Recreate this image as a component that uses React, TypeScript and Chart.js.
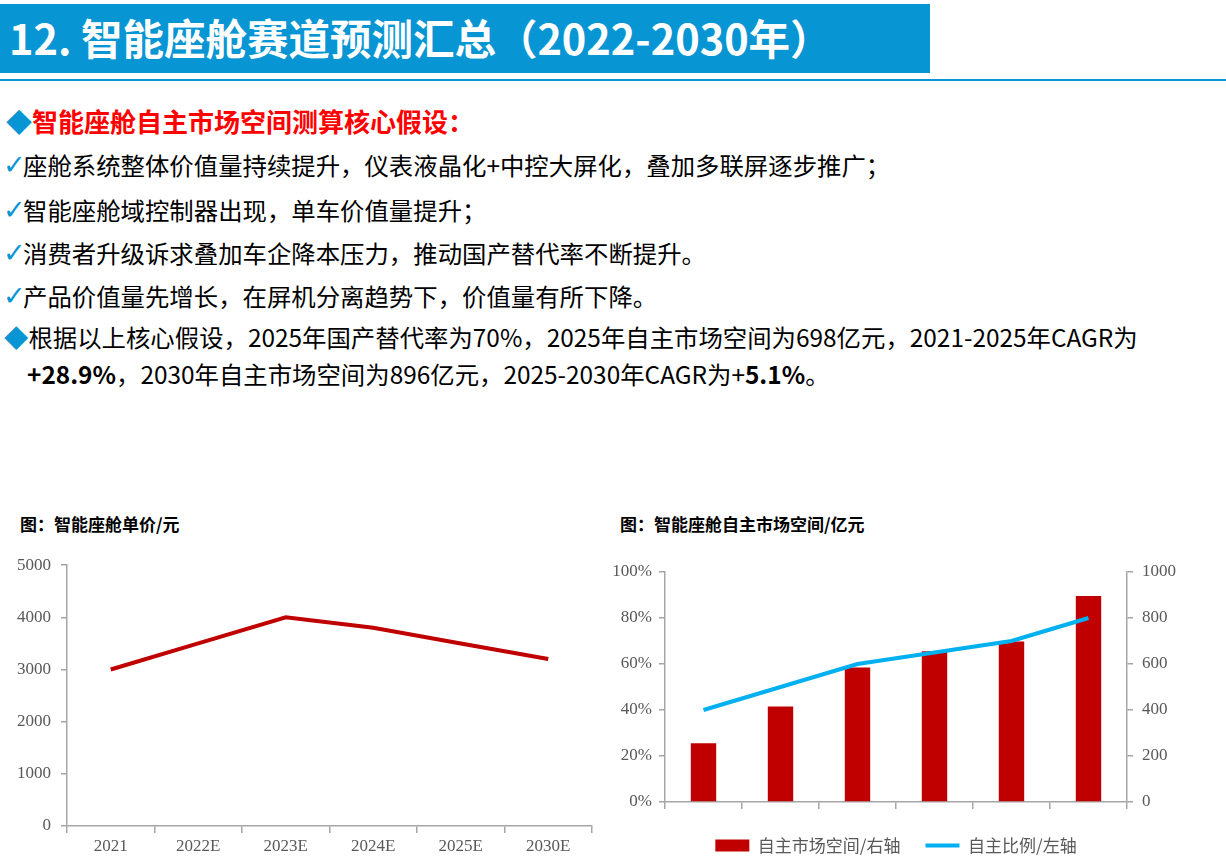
import React, { useEffect, useRef } from 'react';
import { Chart, registerables } from 'chart.js';

Chart.register(...registerables);

// ---------- data ----------
const categories = ['2021', '2022E', '2023E', '2024E', '2025E', '2030E'];
const unitPrice = [3000, 3500, 4000, 3800, 3500, 3200];
const marketSpace = [255, 415, 585, 655, 698, 896];
const domesticRatio = [40, 50, 60, 65, 70, 80];
const seriesNames = ['自主市场空间/右轴', '自主比例/左轴'];

const titleText = '12. 智能座舱赛道预测汇总（2022-2030年）';
const headingText = '智能座舱自主市场空间测算核心假设：';
const checkLines = [
  '座舱系统整体价值量持续提升，仪表液晶化+中控大屏化，叠加多联屏逐步推广；',
  '智能座舱域控制器出现，单车价值量提升；',
  '消费者升级诉求叠加车企降本压力，推动国产替代率不断提升。',
  '产品价值量先增长，在屏机分离趋势下，价值量有所下降。',
];
const leftChartTitle = '图：智能座舱单价/元';
const rightChartTitle = '图：智能座舱自主市场空间/亿元';

// ---------- styles ----------
const BLUE = '#0895d4';
const RED = '#c00000';
const CYAN = '#00b0f0';
const AXIS = '#a6a6a6';
const TICK_COLOR = '#595959';
const CJK = "'Noto Sans CJK SC', 'Noto Sans', sans-serif";
const SERIF = "'Liberation Serif', 'DejaVu Serif', serif";
const TICK_FONT = { family: SERIF, size: 17 };

function PriceChart() {
  const ref = useRef<HTMLCanvasElement>(null);
  useEffect(() => {
    const chart = new Chart(ref.current!, {
      type: 'line',
      data: {
        labels: categories,
        datasets: [
          {
            data: unitPrice,
            borderColor: RED,
            backgroundColor: RED,
            borderWidth: 4,
            pointRadius: 0,
            tension: 0,
            fill: false,
          },
        ],
      },
      options: {
        animation: false,
        responsive: false,
        layout: { padding: { top: 18, right: 8, left: 0, bottom: 0 } },
        plugins: { legend: { display: false }, tooltip: { enabled: false } },
        scales: {
          x: {
            offset: true,
            grid: { offset: true, drawOnChartArea: false, tickLength: 7, color: AXIS, lineWidth: 1.5 },
            border: { color: AXIS, width: 1.5 },
            ticks: { font: TICK_FONT, color: TICK_COLOR, padding: 3, maxRotation: 0 },
            afterFit: (s: any) => {
              s.height = 40;
            },
          },
          y: {
            min: 0,
            max: 5000,
            grid: { drawOnChartArea: false, tickLength: 6, color: AXIS, lineWidth: 1.5 },
            border: { color: AXIS, width: 1.5 },
            ticks: {
              stepSize: 1000,
              font: TICK_FONT,
              color: TICK_COLOR,
              padding: 10,
              callback: (v: any) => String(v),
            },
            afterFit: (s: any) => {
              s.width = 67;
            },
          },
        },
      },
    });
    return () => chart.destroy();
  }, []);
  return (
    <canvas
      ref={ref}
      width={600}
      height={321}
      style={{ position: 'absolute', left: 0, top: 545, width: 600, height: 321 }}
    />
  );
}

function MarketChart() {
  const ref = useRef<HTMLCanvasElement>(null);
  useEffect(() => {
    const chart = new Chart(ref.current!, {
      type: 'bar',
      data: {
        labels: categories,
        datasets: [
          {
            type: 'bar',
            label: seriesNames[0],
            data: marketSpace,
            yAxisID: 'y1',
            backgroundColor: RED,
            borderWidth: 0,
            barPercentage: 0.33,
            categoryPercentage: 1,
            pointStyle: 'rect',
            order: 1,
          } as any,
          {
            type: 'line',
            label: seriesNames[1],
            data: domesticRatio,
            yAxisID: 'y',
            borderColor: CYAN,
            backgroundColor: CYAN,
            borderWidth: 4,
            pointRadius: 0,
            pointStyle: 'line',
            tension: 0,
            order: 0,
          } as any,
        ],
      },
      options: {
        animation: false,
        responsive: false,
        layout: { padding: { top: 27, right: 0, left: 0, bottom: 2 } },
        plugins: {
          tooltip: { enabled: false },
          legend: {
            position: 'bottom',
            fullSize: false,
            labels: {
              usePointStyle: true,
              pointStyleWidth: 34,
              boxHeight: 12,
              padding: 25,
              color: TICK_COLOR,
              font: { family: CJK, size: 17 },
              sort: (a: any, b: any) => a.datasetIndex - b.datasetIndex,
            },
          },
        },
        scales: {
          x: {
            offset: true,
            grid: { offset: true, drawOnChartArea: false, tickLength: 7, color: AXIS, lineWidth: 1.5 },
            border: { color: AXIS, width: 1.5 },
            ticks: { font: TICK_FONT, color: TICK_COLOR, padding: 3, maxRotation: 0 },
            afterFit: (s: any) => {
              s.height = 10;
            },
          },
          y: {
            position: 'left',
            min: 0,
            max: 100,
            grid: { drawOnChartArea: false, tickLength: 6, color: AXIS, lineWidth: 1.5 },
            border: { color: AXIS, width: 1.5 },
            ticks: {
              stepSize: 20,
              font: TICK_FONT,
              color: TICK_COLOR,
              padding: 7,
              callback: (v: any) => v + '%',
            },
            afterFit: (s: any) => {
              s.width = 65;
            },
          },
          y1: {
            position: 'right',
            min: 0,
            max: 1000,
            grid: { drawOnChartArea: false, tickLength: 6, color: AXIS, lineWidth: 1.5 },
            border: { color: AXIS, width: 1.5 },
            ticks: {
              stepSize: 200,
              font: TICK_FONT,
              color: TICK_COLOR,
              padding: 9,
              callback: (v: any) => String(v),
            },
            afterFit: (s: any) => {
              s.width = 99;
            },
          },
        },
      },
    });
    return () => chart.destroy();
  }, []);
  return (
    <canvas
      ref={ref}
      width={626}
      height={321}
      style={{ position: 'absolute', left: 600, top: 545, width: 626, height: 321 }}
    />
  );
}

const lineStyle = (top: number, size: number, left: number): React.CSSProperties => ({
  position: 'absolute',
  left,
  top: top - size / 2,
  fontSize: size,
  lineHeight: `${size}px`,
  whiteSpace: 'nowrap',
  fontFamily: CJK,
  color: '#000',
});

const checkStyle: React.CSSProperties = {
  color: BLUE,
  fontFamily: "'DejaVu Sans', sans-serif",
  fontSize: 27,
  lineHeight: '24px',
  display: 'inline-block',
  width: 20,
  overflow: 'visible',
  verticalAlign: 'top',
};

export default function App() {
  const checkTops = [165, 210, 253, 296];
  return (
    <div
      style={{
        position: 'fixed',
        left: 0,
        top: 0,
        width: 1226,
        height: 866,
        background: '#fff',
        overflow: 'hidden',
        fontFamily: CJK,
      }}
    >
      <div style={{ position: 'absolute', left: 0, top: 4, width: 930, height: 69, background: BLUE }} />
      <div style={{ position: 'absolute', left: 0, top: 79, width: 1226, height: 2, background: BLUE }} />
      <div style={{ ...lineStyle(38, 41.5, 9), color: '#fff', fontWeight: 700 }}>{titleText}</div>

      <div style={{ ...lineStyle(121, 26, 6), fontWeight: 700, color: '#ff0000' }}>
        <span style={{ color: BLUE }}>◆</span>
        {headingText}
      </div>

      {checkLines.map((t, i) => (
        <div key={i} style={lineStyle(checkTops[i], 24.4, 3)}>
          <span style={checkStyle}>✓</span>
          {t}
        </div>
      ))}

      <div style={lineStyle(337, 24.4, 4)}>
        <span style={{ color: BLUE }}>◆</span>根据以上核心假设，2025年国产替代率为70%，2025年自主市场空间为698亿元，2021-2025年CAGR为
      </div>
      <div style={lineStyle(374, 24.4, 27)}>
        <b>+28.9%</b>，2030年自主市场空间为896亿元，2025-2030年CAGR为+<b>5.1%</b>。
      </div>

      <div style={{ ...lineStyle(523, 17, 20), fontWeight: 700, color: '#000' }}>{leftChartTitle}</div>
      <div style={{ ...lineStyle(523, 17, 620), fontWeight: 700, color: '#000' }}>{rightChartTitle}</div>

      <PriceChart />
      <MarketChart />
    </div>
  );
}
